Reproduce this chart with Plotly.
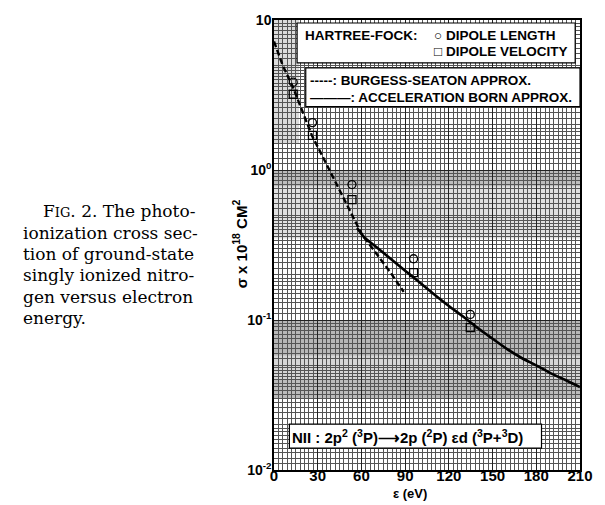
import math
import plotly.graph_objects as go

# ---------------- data ----------------
hf_energy = [13.2, 26.4, 53.5, 95.8, 134.7]
dipole_length = [3.85, 2.07, 0.80, 0.256, 0.109]
dipole_velocity = [3.2, 1.70, 0.635, 0.207, 0.089]

bs_energy = [0, 6, 13, 20, 26, 33, 40, 47, 54, 60, 62, 70, 80, 89]
bs_sigma = [7.2, 4.98, 3.57, 2.41, 1.70, 1.25, 0.91, 0.667, 0.49, 0.377, 0.355, 0.28, 0.207, 0.154]

born_energy = [57, 62, 70, 80, 90, 100, 110, 120, 130, 140, 150, 160, 170, 180, 190, 200, 210]
born_sigma = [0.41, 0.355, 0.308, 0.256, 0.213, 0.178, 0.148, 0.124, 0.105, 0.088, 0.075,
              0.064, 0.0558, 0.0498, 0.0441, 0.0398, 0.0357]

x_ticks = [0, 30, 60, 90, 120, 150, 180, 210]
y_ticks = [0.01, 0.1, 1, 10]
y_ticklabels = ["10<sup>-2</sup>", "10<sup>-1</sup>", "10<sup>0</sup>", "10"]

# ---------------- geometry helpers (layout only) ----------------
W, H = 605, 505
L, R, T, B = 274, 13, 18, 35
PW, PH = W - L - R, H - T - B


def px_x(p):
    return (p - L) / PW


def px_y(p):
    return (H - B - p) / PH


def val_y(v):
    return (math.log10(v) + 2) / 3


# fine log-paper grid
fine = []
for e in (-2, -1, 0):
    base = 10 ** e
    m = 1.0
    while m < 9.99:
        fine.append(round(m * base, 6))
        if m < 1.999:
            m += 0.1
        elif m < 4.999:
            m += 0.2
        else:
            m += 0.5
        m = round(m, 3)

fig = go.Figure()

fig.add_trace(go.Scatter(x=bs_energy, y=bs_sigma, mode="lines",
                         line=dict(color="black", width=2.4, dash="6px,3px"),
                         showlegend=False))
fig.add_trace(go.Scatter(x=born_energy, y=born_sigma, mode="lines",
                         line=dict(color="black", width=2.6, shape="spline", smoothing=0.6),
                         showlegend=False))
fig.add_trace(go.Scatter(x=hf_energy, y=dipole_length, mode="markers",
                         marker=dict(symbol="circle-open", size=8, color="black",
                                     line=dict(width=1.3, color="black")),
                         showlegend=False))
fig.add_trace(go.Scatter(x=hf_energy, y=dipole_velocity, mode="markers",
                         marker=dict(symbol="square-open", size=8, color="black",
                                     line=dict(width=1.3, color="black")),
                         showlegend=False))

shapes = []
# halftone-like gray bands of the scanned graph paper
bands = [(0.42, 1.0, 0.12), (0.78, 1.0, 0.16), (0.35, 0.42, 0.12),
         (0.03, 0.1, 0.16), (0.058, 0.1, 0.14), (0.03, 0.04, 0.12)]
for lo, hi, a in bands:
    shapes.append(dict(type="rect", xref="paper", yref="paper", x0=0, x1=1,
                       y0=val_y(lo), y1=val_y(hi), fillcolor=f"rgba(0,0,0,{a})",
                       line=dict(width=0), layer="below"))
shapes.append(dict(type="rect", xref="paper", yref="paper", x0=0, x1=px_x(300),
                   y0=val_y(1.5), y1=1, fillcolor="rgba(0,0,0,0.14)",
                   line=dict(width=0), layer="below"))

# white label boxes
boxes = [(298, 587, 21, 61), (307, 592, 66, 105), (290, 552, 424, 448)]
for x0, x1, y0, y1 in boxes:
    shapes.append(dict(type="rect", xref="paper", yref="paper",
                       x0=px_x(x0), x1=px_x(x1), y0=px_y(y1), y1=px_y(y0),
                       fillcolor="white", line=dict(color="black", width=1.2),
                       layer="above"))

LF = "Liberation Sans"
ann = []


def label(x, y, text, size=13.5, anchor="left"):
    ann.append(dict(xref="paper", yref="paper", x=px_x(x), y=px_y(y), text=text,
                    showarrow=False, xanchor=anchor, yanchor="middle",
                    font=dict(family=LF, size=size, color="black", weight="bold")))


label(304, 34, "HARTREE-FOCK:")
label(438, 34, "○ DIPOLE LENGTH")
label(438, 50, "□ DIPOLE VELOCITY")
label(309, 79, "-----: BURGESS-SEATON APPROX.")
label(309, 96, "———: ACCELERATION BORN APPROX.")
label(291, 436, "NII : 2p<sup>2</sup> (<sup>3</sup>P)⟶2p (<sup>2</sup>P) εd (<sup>3</sup>P+<sup>3</sup>D)",
      size=15)

# y-axis title
ann.append(dict(xref="paper", yref="paper", x=px_x(238), y=px_y(243),
                text="σ x 10<sup>18</sup> CM<sup>2</sup>", textangle=-90, showarrow=False,
                xanchor="center", yanchor="middle",
                font=dict(family=LF, size=15, color="black", weight="bold")))
# x-axis title
ann.append(dict(xref="paper", yref="paper", x=px_x(415), y=px_y(494),
                text="ε (eV)", showarrow=False, xanchor="center", yanchor="middle",
                borderpad=0,
                font=dict(family=LF, size=13, color="black", weight="bold")))

# caption
cap = ["F<span style='font-size:13px'>IG</span>. 2. The photo-",
       "ionization cross sec-",
       "tion of ground-state",
       "singly ionized nitro-",
       "gen versus electron",
       "energy."]
cap_x = [32, 11, 11, 11, 11, 11]
for i, (t, cx) in enumerate(zip(cap, cap_x)):
    ann.append(dict(xref="paper", yref="paper", x=px_x(cx), y=px_y(210 + 21.5 * i),
                    text=t, showarrow=False, xanchor="left", yanchor="middle",
                    font=dict(family="DejaVu Serif", size=17, color="black")))

fig.update_layout(
    width=W, height=H,
    margin=dict(l=L, r=R, t=T, b=B, pad=0),
    paper_bgcolor="white", plot_bgcolor="white",
    shapes=shapes, annotations=ann, showlegend=False,
    xaxis=dict(range=[0, 210], tickvals=x_ticks, ticks="", showline=True,
               linecolor="black", linewidth=1.5, mirror=True, ticklabelstandoff=-9,
               showgrid=True, gridcolor="#222222", gridwidth=1, zeroline=False,
               tickfont=dict(family=LF, size=15, color="black", weight="bold"),
               minor=dict(dtick=3, tick0=0, showgrid=True, gridcolor="#555555", gridwidth=0.7)),
    yaxis=dict(type="log", range=[-2, 1], tickvals=y_ticks, ticktext=y_ticklabels,
               ticks="", showline=True, linecolor="black", linewidth=1.5, mirror=True,
               ticklabelstandoff=-2,
               showgrid=True, gridcolor="#222222", gridwidth=1, zeroline=False,
               tickfont=dict(family=LF, size=14, color="black", weight="bold"),
               minor=dict(tickvals=fine, showgrid=True, gridcolor="#555555", gridwidth=0.7)),
)

fig.write_html("out.html", config={"displayModeBar": False},
               post_script="document.body.style.margin='0';document.body.style.overflow='hidden';")
